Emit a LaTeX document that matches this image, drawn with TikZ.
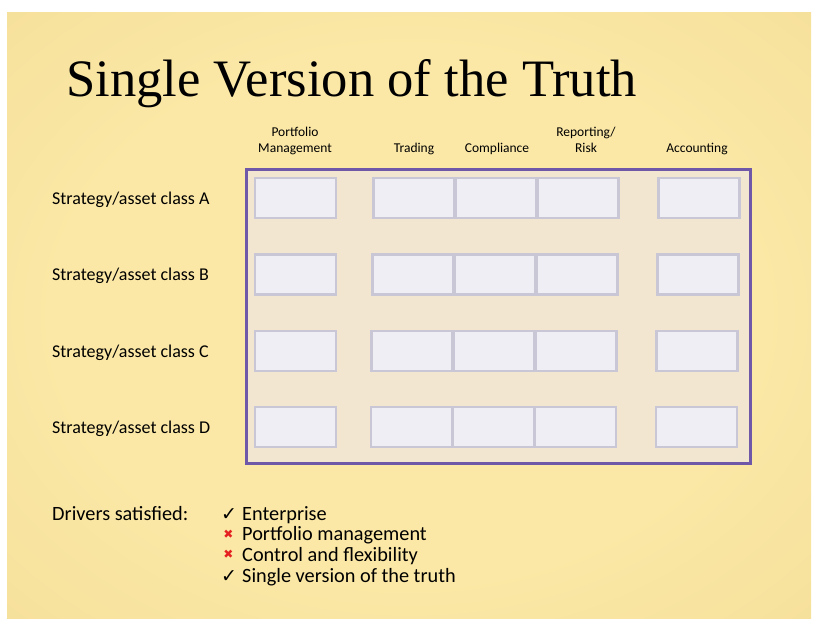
\documentclass[tikz,border=0pt]{standalone}
\usepackage{fontspec}
\setmainfont{Carlito}
\newfontfamily\titlefont{Liberation Serif}
\newfontfamily\symfont{DejaVu Sans}

% slide colours
\definecolor{bgin}{RGB}{251,232,166}
\definecolor{bgout}{RGB}{233,205,128}
\definecolor{panelborder}{RGB}{112,88,168}
\definecolor{panelfill}{RGB}{236,230,238}
\definecolor{cellfill}{RGB}{239,238,245}
\definecolor{celldraw}{RGB}{201,199,213}
\definecolor{crossred}{RGB}{228,32,32}

\pgfdeclareradialshading{slidebg}{\pgfpoint{0bp}{0bp}}%
  {color(0bp)=(bgin); color(22bp)=(bgin); color(72bp)=(bgout)}

\tikzset{
  panel/.style={draw=panelborder, line width=3pt, fill=panelfill,
    fill opacity=0.6, inner sep=0pt, anchor=north west},
  cell/.style={draw=celldraw, line width=2.4pt, fill=cellfill,
    minimum width=81pt, minimum height=40pt, inner sep=0pt},
  colhead/.style={font=\fontsize{13.5}{16}\selectfont, align=center,
    inner sep=0pt, anchor=base},
  rowhead/.style={font=\fontsize{18}{21}\selectfont, inner sep=0pt,
    anchor=base west},
  drivertext/.style={font=\fontsize{20.3}{24}\selectfont, inner sep=0pt,
    anchor=base west},
  okmark/.style={font=\symfont\fontsize{19}{22}\selectfont, inner sep=0pt,
    anchor=base west},
  nomark/.style={font=\symfont\fontsize{12}{14}\selectfont, text=crossred,
    inner sep=0pt, anchor=center},
}

\begin{document}
\begin{tikzpicture}[x=1pt, y=-1pt]
  \useasboundingbox (0,0) rectangle (818,618);
  \fill[white] (0,0) rectangle (818,618);
  \shade[shading=slidebg] (7,13) rectangle (811,618);

  % title
  \node[inner sep=0pt, anchor=base west,
        font=\titlefont\fontsize{52.6}{60}\selectfont] (title) at (66,96)
        {Single Version of the Truth};

  % framed area holding the grid of cells
  \node[panel, minimum width=504pt, minimum height=294pt] (grid) at (244.5,167.5) {};

  % column headings (baseline of the lower line)
  \node[colhead] (hpm) at (295,152) {Portfolio\\Management};
  \node[colhead] (htr) at (414,152) {Trading};
  \node[colhead] (hco) at (497,152) {Compliance};
  \node[colhead] (hrr) at (586,152) {Reporting/\\Risk};
  \node[colhead] (hac) at (697,152) {Accounting};

  % one row of cells per strategy / asset class
  \foreach \r/\y/\s in {A/198/0, B/274.5/-1, C/351/-2, D/427/-2.7} {
    \node[rowhead] (lab\r) at (52,\y+6) {Strategy/asset class \r};
    \node[cell] (pm\r) at (295.5,\y) {};
    \node[cell] (tr\r) at (414+\s,\y) {};
    \node[cell] (co\r) at (496+\s,\y) {};
    \node[cell] (rr\r) at (578+\s,\y) {};
    \node[cell] (ac\r) at (699+\s,\y) {};
  }

  % drivers
  \node[drivertext] (drivers) at (52,520) {Drivers satisfied:};

  \node[okmark] (m1) at (221,520) {✓};
  \node[drivertext] (d1) at (242,520) {Enterprise};
  \node[nomark] (m2) at (228.5,534) {✖};
  \node[drivertext] (d2) at (242,540.7) {Portfolio management};
  \node[nomark] (m3) at (228.5,554.7) {✖};
  \node[drivertext] (d3) at (242,561.4) {Control and flexibility};
  \node[okmark] (m4) at (221,582) {✓};
  \node[drivertext] (d4) at (242,582) {Single version of the truth};
\end{tikzpicture}
\end{document}
